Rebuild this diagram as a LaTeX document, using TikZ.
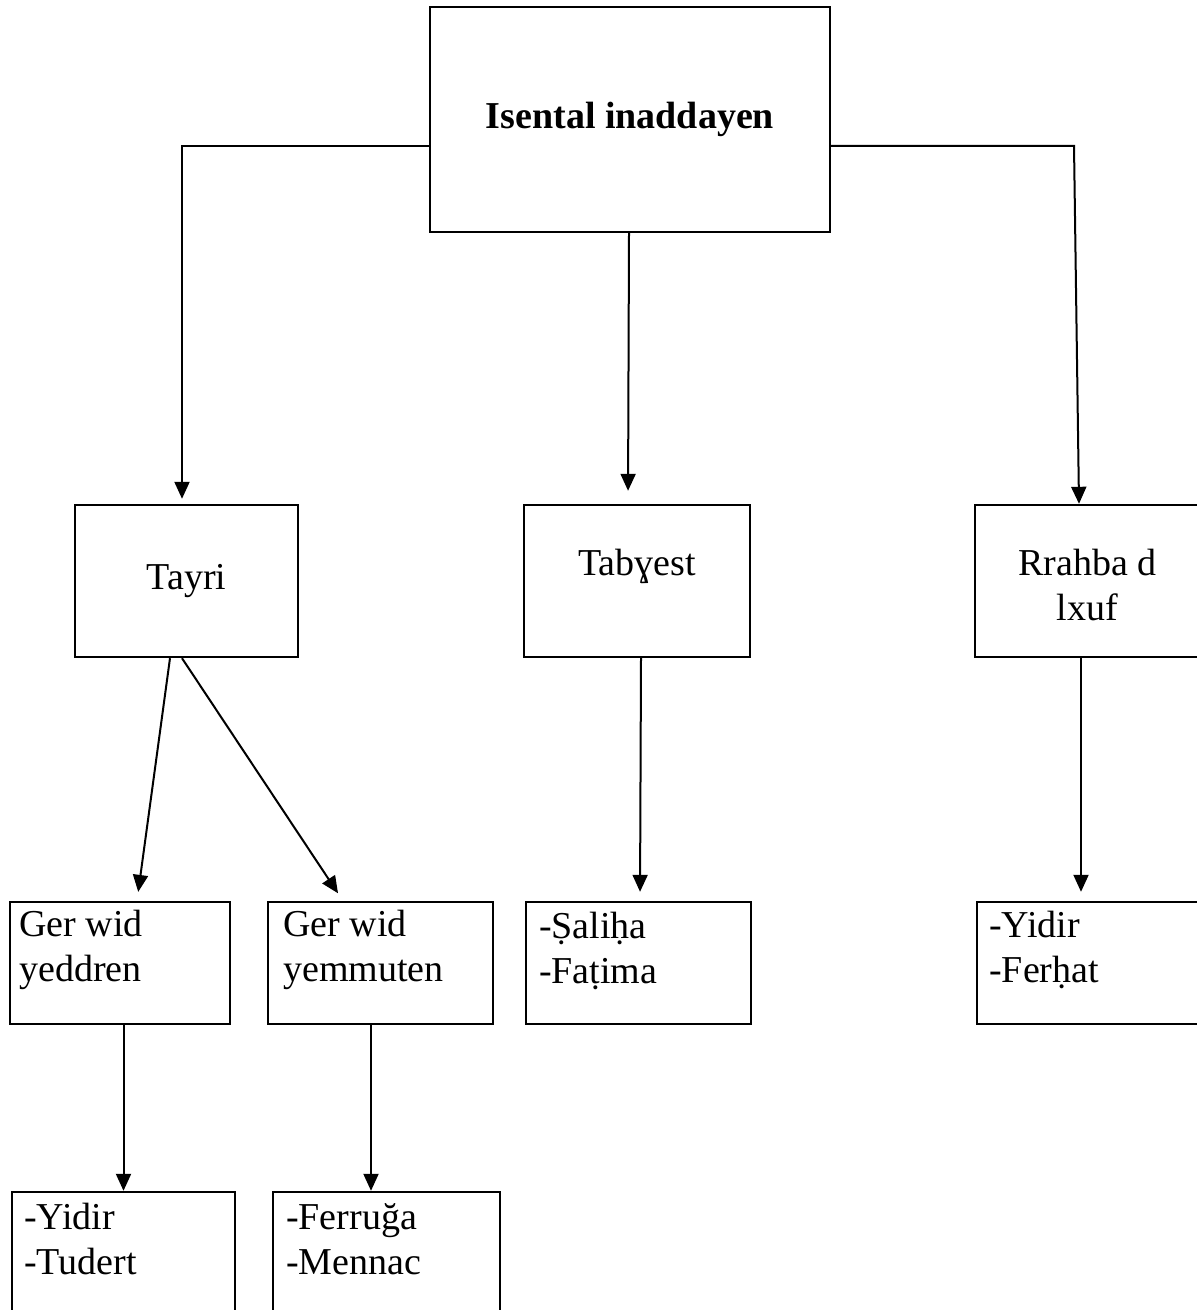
\documentclass[tikz,border=0pt]{standalone}
\usepackage{fontspec}
\setmainfont{Liberation Serif}
\usetikzlibrary{arrows.meta,positioning}

\begin{document}
\begin{tikzpicture}[x=0.5pt,y=-0.5pt,
  box/.style={draw, line width=1.2pt, rectangle, inner sep=0pt, font=\fontsize{19}{22.5}\selectfont},
  link/.style={line width=1pt, -{Triangle[width=7.5pt,length=8.5pt]}},
  lbl/.style={inner sep=0pt, font=\fontsize{19}{22.5}\selectfont},
  lst/.style={lbl, anchor=north west, align=left}]
\useasboundingbox (0,0) rectangle (1197,1310);

% Boxes
\node[box, minimum width=200pt, minimum height=112.5pt, font=\fontsize{19}{22.5}\selectfont\bfseries] (top) at (630,119.5) {Isental inaddayen};
\node[box, minimum width=111.5pt, minimum height=76pt] (tayri) at (186.5,581) {Tayri};
\node[box, minimum width=113pt, minimum height=76pt] (tabyest) at (637,581) {};
\node[box, minimum width=122.5pt, minimum height=76pt] (rrahba) at (1097.5,581) {};
\node[box, minimum width=110pt, minimum height=61pt] (yeddren) at (120,963) {};
\node[box, minimum width=112.5pt, minimum height=61pt] (yemmuten) at (380.5,963) {};
\node[box, minimum width=112.5pt, minimum height=61pt] (saliha) at (638.5,963) {};
\node[box, minimum width=121.5pt, minimum height=61pt] (ferhat) at (1098.5,963) {};
\node[box, minimum width=111.5pt, minimum height=69pt] (tudert) at (123.5,1261) {};
\node[box, minimum width=113.5pt, minimum height=69pt] (mennac) at (386.5,1261) {};

% Text Nodes
\node[lbl, anchor=base] (tabyestt) at ([shift={(0,-6)}]tabyest.center) {Tabɣest};
\node[lbl, align=center] (rrahbat) at ([shift={(-10,4)}]rrahba.center) {Rrahba d\\lxuf};
\node[lst] (yeddrent) at ([shift={(10,9)}]yeddren.north west) {Ger wid\\yeddren};
\node[lst] (yemmutent) at ([shift={(16,9)}]yemmuten.north west) {Ger wid\\yemmuten};
\node[lst] (salihat) at ([shift={(14,11)}]saliha.north west) {-Ṣaliḥa\\-Faṭima};
\node[lst] (ferhatt) at ([shift={(13,10)}]ferhat.north west) {-Yidir\\-Ferḥat};
\node[lst] (tudertt) at ([shift={(13,12)}]tudert.north west) {-Yidir\\-Tudert};
\node[lst] (mennact) at ([shift={(14,12)}]mennac.north west) {-Ferruğa\\-Mennac};

% Connectors
\draw[link, shorten >=2.5pt] (top.west |- 0,146) -| (tayri.north -| 182,0);
\draw[link] (top.east |- 0,146) -- (1074,146) -- (rrahba.north -| 1079,0);
\draw[link, shorten >=6.5pt] (top.south -| 629,0) -- (tabyest.north -| 628,0);
\draw[link, shorten >=4.5pt] (tayri.south -| 170,0) -- (yeddren.north -| 137,0);
\draw[link, shorten >=4.5pt] (tayri.south -| 182,0) -- (yemmuten.north -| 343,0);
\draw[link, shorten >=4.5pt] (tabyest.south -| 641,0) -- (saliha.north -| 640,0);
\draw[link, shorten >=4.5pt] (rrahba.south -| 1081,0) -- (ferhat.north -| 1081,0);
\draw[link] (yeddren.south -| tudert.north) -- (tudert.north);
\draw[link] (yemmuten.south -| 371,0) -- (mennac.north -| 371,0);

\end{tikzpicture}
\end{document}
